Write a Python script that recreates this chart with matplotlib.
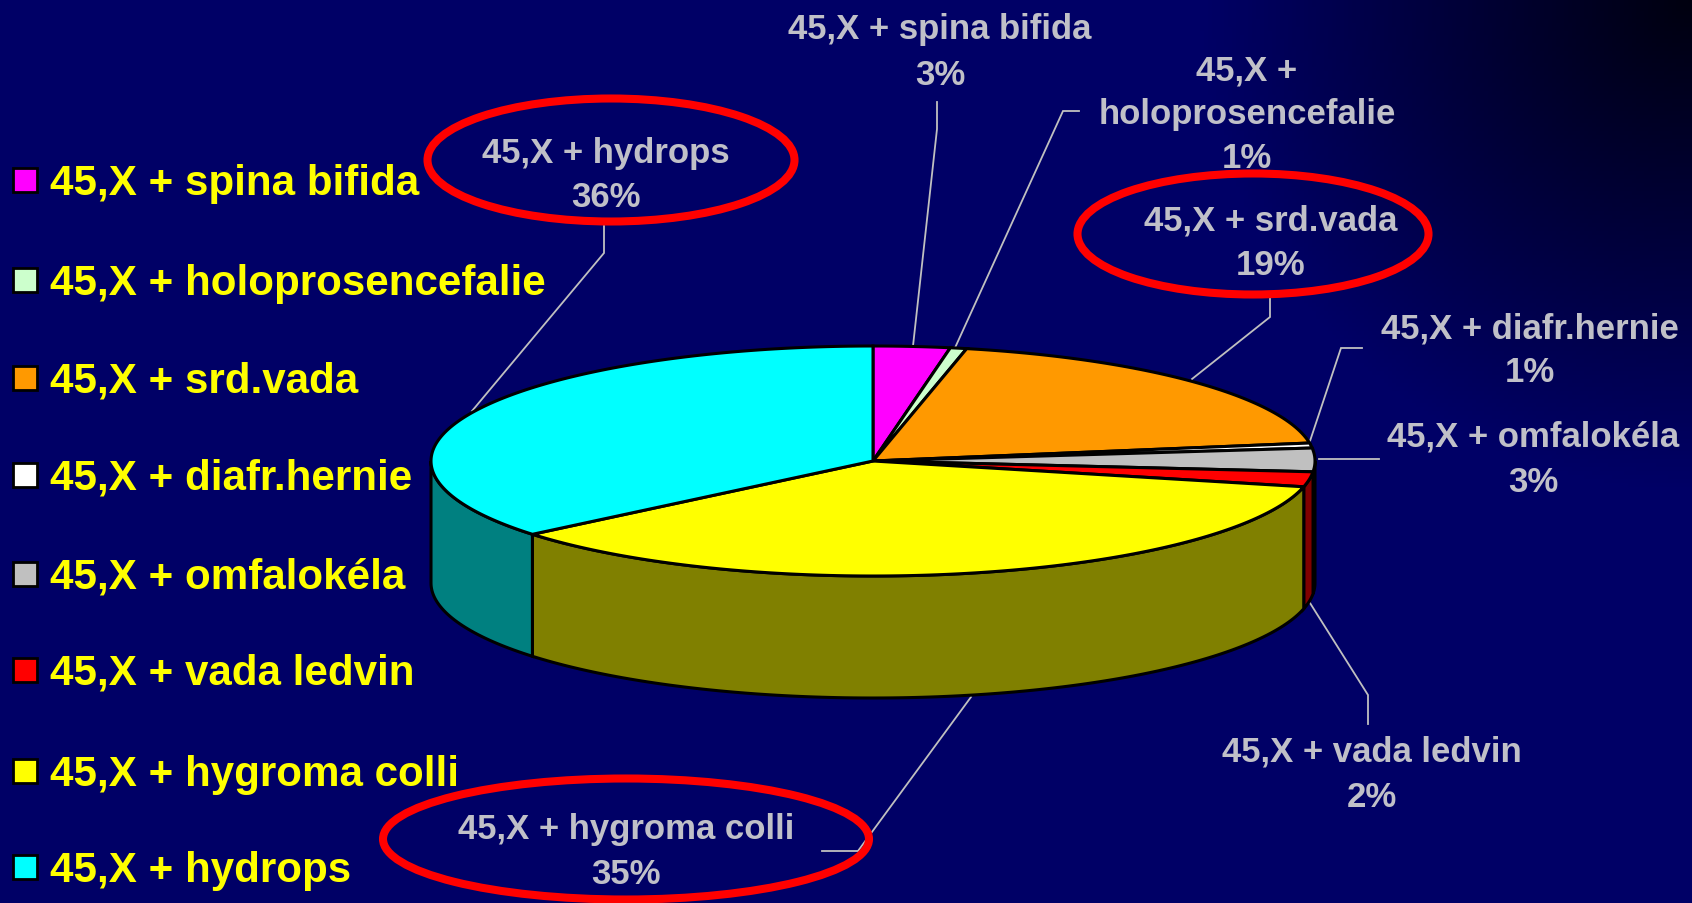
import numpy as np
import matplotlib
matplotlib.use("Agg")
import matplotlib.pyplot as plt
from matplotlib.patches import Polygon, Rectangle, Ellipse

plt.rcParams['font.family'] = ['Liberation Sans', 'DejaVu Sans']

# --- data ---
categories = ["45,X + spina bifida", "45,X + holoprosencefalie", "45,X + srd.vada",
              "45,X + diafr.hernie", "45,X + omfalokéla", "45,X + vada ledvin",
              "45,X + hygroma colli", "45,X + hydrops"]
values = [2.8, 0.6, 19.1, 0.7, 3.3, 2.1, 35.4, 36.0]
top_colors = ["#FF00FF", "#CCFFCC", "#FF9900", "#FFFFFF", "#C0C0C0", "#FF0000", "#FFFF00", "#00FFFF"]
side_colors = ["#800080", "#669966", "#804D00", "#808080", "#606060", "#800000", "#808000", "#008080"]

# legend rows (px)
legend_y = [181, 281, 379, 476, 575, 671, 772, 868]

# label text, anchor
label_lines = [
    ["45,X + spina bifida", "3%"],
    ["45,X +", "holoprosencefalie", "1%"],
    ["45,X + srd.vada", "19%"],
    ["45,X + diafr.hernie", "1%"],
    ["45,X + omfalokéla", "3%"],
    ["45,X + vada ledvin", "2%"],
    ["45,X + hygroma colli", "35%"],
    ["45,X + hydrops", "36%"],
]
label_x = [940, 1247, 1271, 1530, 1533, 1372, 626, 606]
label_y = [[29, 75], [70, 114, 158], [221, 265], [329, 372], [437, 482], [752, 797], [829, 874], [153, 197]]

leaders = [
    [(937, 103), (937, 130), (913, 347)],
    [(1079, 112), (1063, 112), (954, 351)],
    [(1270, 297), (1270, 318), (1192, 380)],
    [(1362, 349), (1341, 349), (1310, 442)],
    [(1379, 460), (1319, 460)],
    [(1368, 725), (1368, 696), (1310, 604)],
    [(822, 852), (858, 852), (971, 698)],
    [(604, 227), (604, 254), (472, 412)],
]

# red rings: centre x, centre y, width, height
rings = [(611, 161, 367, 123), (1253, 235, 351, 121), (626, 840, 486, 121)]

# --- pie geometry ---
cx, cy = 873, 462
rx, ry = 442, 115
depth = 122


def rim(a0, a1, n=None):
    # a measured clockwise from 12 o'clock, degrees
    n = n or max(2, int(abs(a1 - a0)) + 2)
    t = np.radians(np.linspace(a0, a1, n))
    return cx + rx * np.sin(t), cy - ry * np.cos(t)


fig = plt.figure(figsize=(16.92, 9.04), dpi=100)
ax = fig.add_axes([0, 0, 1, 1])
ax.set_xlim(0, 1692)
ax.set_ylim(904, 0)
ax.axis('off')

# background, navy going dark towards the top right corner
yy, xx = np.mgrid[0:904:226j, 0:1692:423j]
dist = np.sqrt((1692 - xx) ** 2 + yy ** 2) / 490
bg = np.zeros((226, 423, 3))
bg[..., 2] = (102 / 255) * (1 - 0.85 * np.clip(1 - dist, 0, 1))
ax.imshow(bg, extent=(0, 1692, 904, 0), aspect='auto', zorder=0)

# side wall, only the part facing us
edges = np.concatenate([[0], np.cumsum(values)]) * 3.6
for i in range(len(values)):
    a0, a1 = max(edges[i], 90), min(edges[i + 1], 270)
    if a1 <= a0:
        continue
    x, y = rim(a0, a1)
    pts = np.column_stack([np.r_[x, x[::-1]], np.r_[y, y[::-1] + depth]])
    ax.add_patch(Polygon(pts, closed=True, fc=side_colors[i], ec='black', lw=2.2, zorder=2))

# top face
for i in range(len(values)):
    x, y = rim(edges[i], edges[i + 1])
    pts = np.column_stack([np.r_[cx, x], np.r_[cy, y]])
    ax.add_patch(Polygon(pts, closed=True, fc=top_colors[i], ec='black', lw=2.2, zorder=3))

# leader lines
for line in leaders:
    xs, ys = zip(*line)
    ax.plot(xs, ys, color='#C0C0C0', lw=1.3, zorder=1, solid_joinstyle='miter')

# pie labels
for lines, lx, lys in zip(label_lines, label_x, label_y):
    for s, ly in zip(lines, lys):
        ax.text(lx, ly + 10, s, color='#C0C0C8', fontsize=25, fontweight='bold',
                ha='center', va='baseline', zorder=5)

# red rings
for ex, ey, ew, eh in rings:
    ax.add_patch(Ellipse((ex, ey), ew, eh, fc='none', ec='#FF0000', lw=5.8, zorder=6))

# legend
for name, c, ly in zip(categories, top_colors, legend_y):
    ax.add_patch(Rectangle((13, ly - 12), 24, 24, fc=c, ec='black', lw=2, zorder=5))
    ax.text(50, ly + 14, name, color='#FFFF00', fontsize=30.3, fontweight='bold',
            ha='left', va='baseline', zorder=5)

fig.savefig("out.png", dpi=100)
